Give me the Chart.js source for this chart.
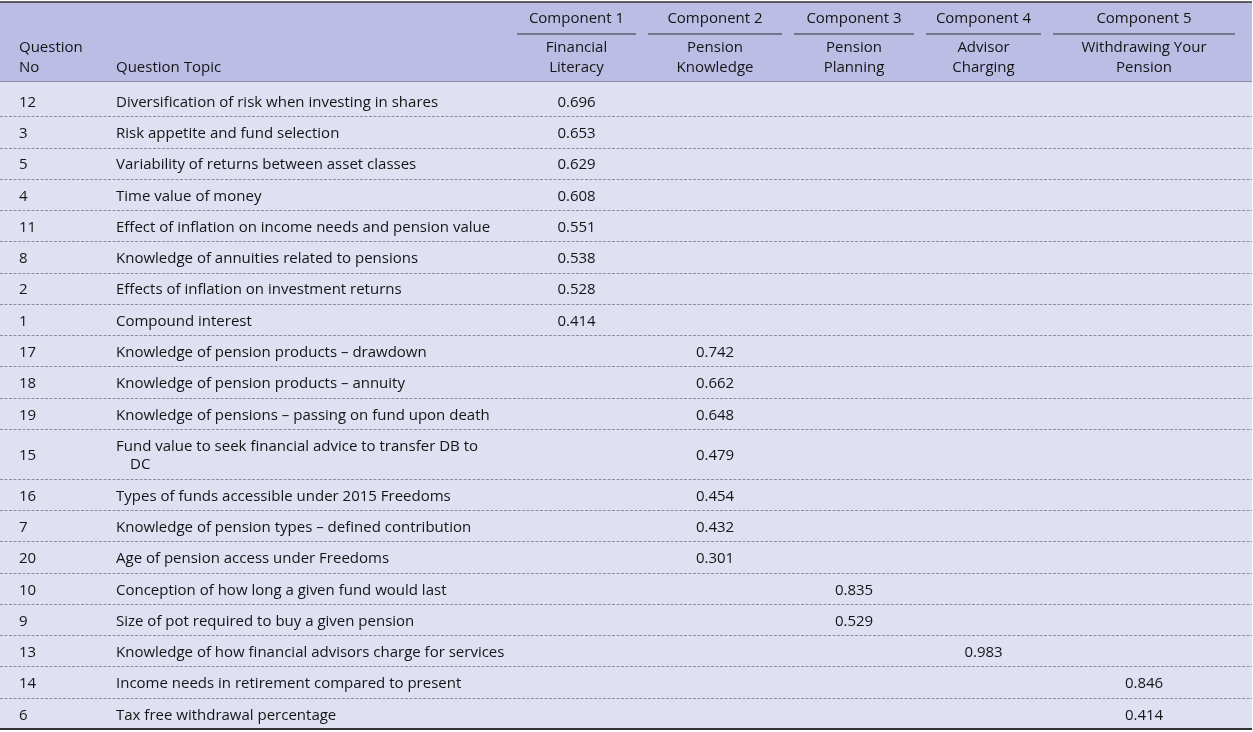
<!DOCTYPE html>
<html lang="en">
<head>
<meta charset="UTF-8">
<title>Component loadings</title>
<style>
    html, body { margin: 0; padding: 0; background: #fff; }
    #wrap { width: 1253px; height: 732px; }
</style>
</head>
<body>
<div id="wrap"><canvas id="chart"></canvas></div>
<script src="https://cdn.jsdelivr.net/npm/chart.js@4.4.1/dist/chart.umd.min.js"></script>
<script>
'use strict';

// table data
var questionNo = ['12', '3', '5', '4', '11', '8', '2', '1', '17', '18', '19', '15', '16', '7', '20', '10', '9', '13', '14', '6'];
var questionTopic = [
    'Diversification of risk when investing in shares',
    'Risk appetite and fund selection',
    'Variability of returns between asset classes',
    'Time value of money',
    'Effect of inflation on income needs and pension value',
    'Knowledge of annuities related to pensions',
    'Effects of inflation on investment returns',
    'Compound interest',
    'Knowledge of pension products \u2013 drawdown',
    'Knowledge of pension products \u2013 annuity',
    'Knowledge of pensions \u2013 passing on fund upon death',
    'Fund value to seek financial advice to transfer DB to\nDC',
    'Types of funds accessible under 2015 Freedoms',
    'Knowledge of pension types \u2013 defined contribution',
    'Age of pension access under Freedoms',
    'Conception of how long a given fund would last',
    'Size of pot required to buy a given pension',
    'Knowledge of how financial advisors charge for services',
    'Income needs in retirement compared to present',
    'Tax free withdrawal percentage'
];
var componentTitles = ['Component 1', 'Component 2', 'Component 3', 'Component 4', 'Component 5'];
var componentNames = ['Financial\nLiteracy', 'Pension\nKnowledge', 'Pension\nPlanning', 'Advisor\nCharging', 'Withdrawing Your\nPension'];

var component1 = [0.696, 0.653, 0.629, 0.608, 0.551, 0.538, 0.528, 0.414, null, null, null, null, null, null, null, null, null, null, null, null];
var component2 = [null, null, null, null, null, null, null, null, 0.742, 0.662, 0.648, 0.479, 0.454, 0.432, 0.301, null, null, null, null, null];
var component3 = [null, null, null, null, null, null, null, null, null, null, null, null, null, null, null, 0.835, 0.529, null, null, null];
var component4 = [null, null, null, null, null, null, null, null, null, null, null, null, null, null, null, null, null, 0.983, null, null];
var component5 = [null, null, null, null, null, null, null, null, null, null, null, null, null, null, null, null, null, null, 0.846, 0.414];

// layout (x in canvas units, header in px)
var COL_EDGES = [0, 110, 511, 642, 788, 920, 1047, 1241];
var TEXT_LEFT = [19, 116];
var HEADER = { top: 2, title: 19, rule: 34, line1: 48, line2: 68, bottom: 81 };
var FONT = '15px "Open Sans"';
var TEXT_COLOR = '#151515';
var HEADER_BG = '#bcbde5';
var BODY_BG = '#dfe0f2';
var TEXT_SHIFT = 2;

// row heights in line units, a wrapped topic gets an extra 0.6
var rowStart = [];
var totalUnits = 0;
questionTopic.forEach(function (t) {
    rowStart.push(totalUnits);
    totalUnits += 1 + 0.6 * (t.split('\n').length - 1);
});
function rowCenter(i) {
    var end = i + 1 < rowStart.length ? rowStart[i + 1] : totalUnits;
    return (rowStart[i] + end) / 2;
}
function colCenter(c) {
    return (COL_EDGES[c] + COL_EDGES[c + 1]) / 2;
}

// one dataset per table column
function textDataset(texts, x, align) {
    var pts = [], labels = [];
    texts.forEach(function (v, i) {
        if (v === null) return;
        pts.push({ x: x, y: rowCenter(i) });
        labels.push(typeof v === 'number' ? v.toFixed(3) : v);
    });
    return { data: pts, cellText: labels, cellAlign: align, pointRadius: 0 };
}

var datasets = [
    textDataset(questionNo, TEXT_LEFT[0], 'left'),
    textDataset(questionTopic, TEXT_LEFT[1], 'left')
];
[component1, component2, component3, component4, component5].forEach(function (arr, c) {
    datasets.push(textDataset(arr, colCenter(c + 2), 'center'));
});

var tablePlugin = {
    id: 'tablePlugin',
    beforeDraw: function (chart) {
        var ctx = chart.ctx;
        var xs = chart.scales.x, ys = chart.scales.y;
        var right = xs.getPixelForValue(1252);
        var bottom = chart.chartArea.bottom;
        ctx.save();
        ctx.fillStyle = '#fff';
        ctx.fillRect(0, 0, chart.width, chart.height);
        ctx.fillStyle = HEADER_BG;
        ctx.fillRect(0, HEADER.top, right, HEADER.bottom - HEADER.top);
        ctx.fillStyle = BODY_BG;
        ctx.fillRect(0, HEADER.bottom, right, bottom - HEADER.bottom);

        // row separators
        ctx.strokeStyle = '#8e8e9e';
        ctx.lineWidth = 1;
        ctx.setLineDash([3, 1.5]);
        for (var i = 1; i < rowStart.length; i++) {
            var y = Math.round(ys.getPixelForValue(rowStart[i])) + 0.5;
            ctx.beginPath();
            ctx.moveTo(0, y);
            ctx.lineTo(right, y);
            ctx.stroke();
        }
        ctx.setLineDash([]);

        // header rules
        ctx.strokeStyle = '#333';
        ctx.lineWidth = 1.5;
        ctx.beginPath();
        ctx.moveTo(0, HEADER.top);
        ctx.lineTo(right, HEADER.top);
        ctx.stroke();
        ctx.lineWidth = 1;
        ctx.strokeStyle = '#8a8a9c';
        ctx.beginPath();
        ctx.moveTo(0, HEADER.bottom + 0.5);
        ctx.lineTo(right, HEADER.bottom + 0.5);
        ctx.stroke();
        ctx.strokeStyle = '#333';
        ctx.lineWidth = 2;
        ctx.beginPath();
        ctx.moveTo(0, bottom);
        ctx.lineTo(right, bottom);
        ctx.stroke();

        // header text
        ctx.fillStyle = TEXT_COLOR;
        ctx.font = FONT;
        ctx.textBaseline = 'middle';
        ctx.textAlign = 'left';
        ctx.fillText('Question', xs.getPixelForValue(TEXT_LEFT[0]), HEADER.line1);
        ctx.fillText('No', xs.getPixelForValue(TEXT_LEFT[0]), HEADER.line2);
        ctx.fillText('Question Topic', xs.getPixelForValue(TEXT_LEFT[1]), HEADER.line2);
        ctx.textAlign = 'center';
        componentTitles.forEach(function (t, c) {
            var l = xs.getPixelForValue(COL_EDGES[c + 2]) + 6;
            var r = xs.getPixelForValue(COL_EDGES[c + 3]) - 6;
            var cx = xs.getPixelForValue(colCenter(c + 2));
            ctx.fillText(t, cx, HEADER.title);
            ctx.strokeStyle = '#333';
            ctx.lineWidth = 1.2;
            ctx.beginPath();
            ctx.moveTo(l, HEADER.rule);
            ctx.lineTo(r, HEADER.rule);
            ctx.stroke();
            var lines = componentNames[c].split('\n');
            ctx.fillText(lines[0], cx, HEADER.line1);
            if (lines[1]) ctx.fillText(lines[1], cx, HEADER.line2);
        });
        ctx.restore();
    },
    afterDatasetsDraw: function (chart) {
        var ctx = chart.ctx;
        ctx.save();
        ctx.fillStyle = TEXT_COLOR;
        ctx.font = FONT;
        ctx.textBaseline = 'middle';
        chart.data.datasets.forEach(function (ds, d) {
            var meta = chart.getDatasetMeta(d);
            ctx.textAlign = ds.cellAlign;
            meta.data.forEach(function (pt, i) {
                var lines = ds.cellText[i].split('\n');
                var lh = 18;
                var y0 = pt.y + TEXT_SHIFT - (lines.length - 1) * lh / 2;
                lines.forEach(function (line, k) {
                    ctx.fillText(line, pt.x + (k > 0 ? 14 : 0), y0 + k * lh);
                });
            });
        });
        ctx.restore();
    }
};

var chart = new Chart(document.getElementById('chart'), {
    type: 'scatter',
    data: { datasets: datasets },
    options: {
        responsive: true,
        maintainAspectRatio: false,
        animation: false,
        layout: { padding: { top: 85, bottom: 3, left: 0, right: 0 } },
        scales: {
            x: { type: 'linear', display: false, min: 0, max: 1253 },
            y: { type: 'linear', display: false, reverse: true, min: 0, max: totalUnits }
        },
        plugins: { legend: { display: false }, tooltip: { enabled: false } }
    },
    plugins: [tablePlugin]
});
</script>
</body>
</html>
